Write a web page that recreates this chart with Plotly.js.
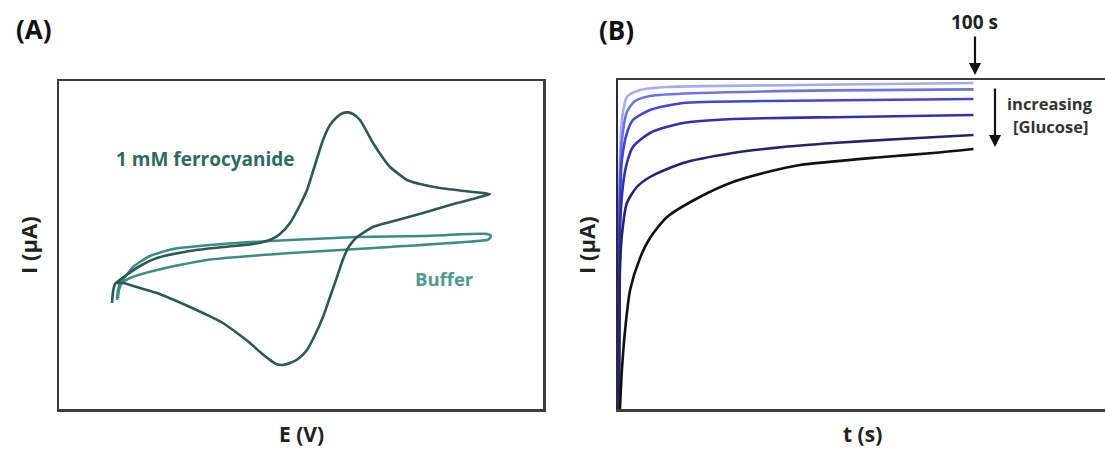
<!DOCTYPE html>
<html>
<head>
<meta charset="utf-8">
<script src="https://cdn.plot.ly/plotly-3.0.1.min.js"></script>
<style>html,body{margin:0;padding:0;background:#fff;overflow:hidden}#chart{width:1105px;height:450px}</style>
</head>
<body>
<div id="chart"></div>
<script>
// ---------- Panel A: cyclic voltammetry (E in V, I in µA, arbitrary scale) ----------
const ferroE = [-0.094,-0.092,-0.088,-0.068,-0.038,-0.004,0.062,0.128,0.182,0.208,0.226,0.242,0.262,0.282,0.296,0.312,0.328,0.342,0.356,0.368,0.378,0.388,0.402,0.428,0.448,0.462,0.482,0.496,0.522,0.562,0.628,0.662,
  0.642,0.596,0.528,0.462,0.428,0.396,0.382,0.376,0.366,0.356,0.342,0.328,0.312,0.296,0.278,0.262,0.248,0.234,0.222,0.202,0.182,0.156,0.128,0.092,0.062,-0.004,-0.038,-0.072,-0.086];
const ferroI = [-2.9,-2.35,-1.95,-1.55,-1.05,-0.65,-0.3,-0.1,0.03,0.15,0.3,0.55,1.1,2.0,2.75,4.0,5.25,6.0,6.4,6.6,6.63,6.55,6.25,5.1,4.35,3.9,3.5,3.25,3.05,2.85,2.65,2.55,
  2.4,2.1,1.6,1.15,0.9,0.4,0.0,-0.25,-0.85,-1.6,-2.6,-3.6,-4.5,-5.25,-5.7,-5.9,-6.0,-5.95,-5.75,-5.35,-4.9,-4.4,-3.9,-3.45,-3.1,-2.4,-2.15,-1.9,-1.9];
const bufferE = [-0.084,-0.082,-0.078,-0.066,-0.052,-0.018,0.028,0.128,0.262,0.396,0.528,0.656,0.664,0.66,0.656,0.462,0.262,0.096,-0.004,-0.058,-0.074,-0.08,-0.082];
const bufferI = [-2.75,-2.25,-1.9,-1.55,-1.1,-0.55,-0.2,0.05,0.25,0.4,0.45,0.55,0.45,0.3,0.25,-0.1,-0.4,-0.75,-1.25,-1.65,-1.9,-2.25,-2.65];

// ---------- Panel B: chronoamperometry (t in s, I in µA, arbitrary scale) ----------
const t1 = [0.15,0.3,0.55,1.1,2.5,6.2,13.8,51.2,100];
const i1 = [-16.45,-8.5,-4,-2,-0.85,-0.5,-0.35,-0.25,-0.15];
const t2 = [0.15,0.3,0.55,1.1,2.5,4.8,9,23,60.5,100];
const i2 = [-16.45,-9,-5,-3,-1.6,-1.05,-0.8,-0.65,-0.52,-0.47];
const t3 = [0.15,0.3,0.55,1.1,2.5,4.2,9,18.3,42,100];
const i3 = [-16.45,-10,-6,-4,-2.65,-2,-1.5,-1.15,-1.05,-0.95];
const t4 = [0.3,0.4,0.55,1.4,2.5,4.2,9,18.3,32.3,65.3,100];
const i4 = [-16.45,-11,-7.5,-5.25,-4.15,-3.35,-2.65,-2.15,-1.95,-1.85,-1.75];
const t5 = [0.3,0.4,0.55,1.1,2.5,5.3,9,18.3,32.3,46.4,60.5,79.3,100];
const i5 = [-16.45,-12,-9.5,-7.75,-6.15,-5.35,-4.85,-4.15,-3.65,-3.35,-3.15,-2.95,-2.75];
const t6 = [0.55,1.1,2,3.4,6.2,9,13.8,23,32.3,42,51.2,74.5,88.6,100];
const i6 = [-16.45,-14.5,-12.5,-10.5,-8.9,-7.9,-6.85,-5.85,-5.1,-4.6,-4.25,-3.85,-3.65,-3.45];
const seriesT = [t1,t2,t3,t4,t5,t6];
const seriesI = [i1,i2,i3,i4,i5,i6];
const seriesColors = ['#a3acf2','#6b74e6','#4046d6','#3131ad','#242370','#111111'];

const W = 1105, H = 450;
const px = x => x / W, py = y => 1 - y / H;
const FONT = '"Open Sans", "Liberation Sans", sans-serif';

const traces = [
  {x: bufferE, y: bufferI, xaxis:'x', yaxis:'y', mode:'lines', line:{color:'#3d8c83', width:2.5, shape:'spline', smoothing:0.6}},
  {x: ferroE, y: ferroI, xaxis:'x', yaxis:'y', mode:'lines', line:{color:'#2c5955', width:2.6, shape:'spline', smoothing:0.6}}
];
for (let k = 0; k < seriesT.length; k++) {
  traces.push({x: seriesT[k], y: seriesI[k], xaxis:'x2', yaxis:'y2', mode:'lines',
    line:{color: seriesColors[k], width:2.6, shape:'spline', smoothing:0.7}});
}

const axBase = {showgrid:false, zeroline:false, showticklabels:false, ticks:'', showline:true,
  linecolor:'#3c3c3c', linewidth:2.5, fixedrange:true};

function label(x, y, text, size, color, extra) {
  return Object.assign({xref:'paper', yref:'paper', x:px(x), y:py(y), xanchor:'center', yanchor:'middle',
    text:text, showarrow:false, font:{size:size, color:color}}, extra || {});
}

const layout = {
  width: W, height: H,
  margin: {l:0, r:0, t:0, b:0},
  paper_bgcolor:'#fff', plot_bgcolor:'#fff',
  showlegend:false, hovermode:false,
  font:{family: FONT, color:'#222'},
  xaxis: Object.assign({}, axBase, {domain:[px(59), px(543)], range:[-0.2, 0.768], mirror:true, anchor:'y'}),
  yaxis: Object.assign({}, axBase, {domain:[py(409), py(81)], range:[-8.2, 8.2], mirror:true, anchor:'x'}),
  xaxis2: Object.assign({}, axBase, {domain:[px(618), 1], range:[0, 137], mirror:true, anchor:'y2'}),
  yaxis2: Object.assign({}, axBase, {domain:[py(409), py(80)], range:[-16.45, 0], mirror:false, anchor:'x2', linecolor:'#2a2a3a'}),
  annotations: [
    label(34, 29, '<b>(A)</b>', 26, '#111'),
    label(616, 30, '<b>(B)</b>', 26, '#111'),
    label(301, 434, '<b>E (V)</b>', 21, '#222'),
    label(28, 245, '<b>I (µA)</b>', 22, '#222', {textangle:-90}),
    label(862, 434, '<b>t (s)</b>', 21, '#222'),
    label(586, 245, '<b>I (µA)</b>', 22, '#222', {textangle:-90}),
    label(205, 159, '<b>1 mM ferrocyanide</b>', 19, '#2e6a63'),
    label(444, 278, '<b>Buffer</b>', 18.5, '#4f9a90'),
    label(974, 22, '<b>100 s</b>', 19, '#222'),
    {xref:'paper', yref:'paper', x:px(975), y:py(75), ax:0, ay:-40, text:'', showarrow:true, arrowhead:2, arrowsize:1.1, arrowwidth:2.2, arrowcolor:'#111'},
    {xref:'paper', yref:'paper', x:px(995), y:py(147), ax:0, ay:-60, text:'', showarrow:true, arrowhead:2, arrowsize:1.1, arrowwidth:2.2, arrowcolor:'#111'},
    label(1050, 103, '<b>increasing</b>', 16.5, '#333'),
    label(1050, 127, '<b>[Glucose]</b>', 16.5, '#333')
  ]
};

Plotly.newPlot('chart', traces, layout, {staticPlot:true, displayModeBar:false});
</script>
</body>
</html>
